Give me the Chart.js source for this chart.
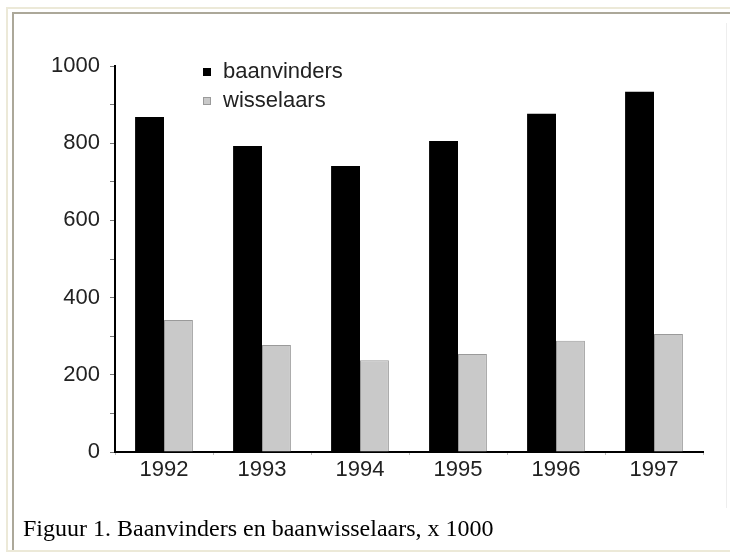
<!DOCTYPE html>
<html>
<head>
<meta charset="utf-8">
<script src="https://cdn.jsdelivr.net/npm/chart.js@4"></script>
<style>
    body { margin: 0; background: #fff; width: 730px; height: 552px; overflow: hidden; position: relative; }
    .outer { position: absolute; left: 6px; top: 7px; width: 724px; height: 541px; border-top: 2px solid #ece9d8; border-left: 2px solid #ece9d8; border-bottom: 2px solid #ece9d8; }
    .inner { position: absolute; left: 12px; top: 12px; width: 718px; height: 536px; border-top: 2px solid #aca899; border-left: 2px solid #aca899; }
    .rightline { position: absolute; left: 726px; top: 23px; width: 1px; height: 485px; background: #eeeeee; }
    .caption { position: absolute; left: 23px; top: 515px; font: 24px "Liberation Serif", "Times New Roman", serif; color: #000; white-space: nowrap; }
    #chart { position: absolute; left: 0; top: 0; }
</style>
</head>
<body>
<div class="outer"></div>
<div class="inner"></div>
<div class="rightline"></div>
<canvas id="chart" width="730" height="552"></canvas>
<div class="caption">Figuur 1. Baanvinders en baanwisselaars, x 1000</div>
<script>
const years = ['1992', '1993', '1994', '1995', '1996', '1997'];
const baanvinders = [868, 793, 741, 806, 876, 933];
const wisselaars = [342, 277, 238, 254, 288, 306];
const seriesNames = ['baanvinders', 'wisselaars'];

// legend drawn inside the plot, top left
const legendInside = {
    id: 'legendInside',
    afterDraw(chart) {
        const ctx = chart.ctx;
        ctx.save();
        ctx.font = '22px "Liberation Sans", Arial, sans-serif';
        ctx.textBaseline = 'middle';
        chart.data.datasets.forEach((ds, i) => {
            const y = 72 + i * 29;
            ctx.fillStyle = ds.backgroundColor;
            ctx.fillRect(203, y - 4, 8, 8);
            if (i === 1) {
                ctx.strokeStyle = ds.borderColor;
                ctx.lineWidth = 1;
                ctx.strokeRect(203.5, y - 3.5, 7, 7);
            }
            ctx.fillStyle = '#222';
            ctx.fillText(ds.label, 223, y);
        });
        ctx.restore();
    }
};

const ctx = document.getElementById('chart').getContext('2d');
const chart = new Chart(ctx, {
    type: 'bar',
    data: {
        labels: years,
        datasets: [{
            label: seriesNames[0],
            data: baanvinders,
            backgroundColor: '#000000',
            borderWidth: 0
        }, {
            label: seriesNames[1],
            data: wisselaars,
            backgroundColor: '#c9c9c9',
            borderColor: '#9a9a9a',
            borderWidth: 1
        }]
    },
    options: {
        responsive: false,
        animation: false,
        layout: {
            padding: { left: 0, top: 66, right: 27, bottom: 60 }
        },
        plugins: {
            legend: { display: false },
            tooltip: { enabled: false }
        },
        datasets: {
            bar: { categoryPercentage: 0.59, barPercentage: 1 }
        },
        scales: {
            x: {
                afterFit: (scale) => { scale.height = 40; },
                grid: {
                    display: true,
                    offset: true,
                    drawOnChartArea: false,
                    tickLength: 3,
                    color: '#bbb'
                },
                border: { color: '#000', width: 2 },
                ticks: {
                    color: '#222',
                    padding: 2,
                    font: { family: '"Liberation Sans", Arial, sans-serif', size: 22 }
                }
            },
            y: {
                min: 0,
                max: 1000,
                afterFit: (scale) => { scale.width = 115; },
                grid: {
                    display: true,
                    drawOnChartArea: false,
                    tickLength: 5,
                    color: '#777'
                },
                border: { color: '#000', width: 2 },
                ticks: {
                    stepSize: 100,
                    color: '#222',
                    padding: 10,
                    font: { family: '"Liberation Sans", Arial, sans-serif', size: 22 },
                    callback: (v) => (v % 200 === 0 ? v : '')
                }
            }
        }
    },
    plugins: [legendInside]
});
</script>
</body>
</html>
